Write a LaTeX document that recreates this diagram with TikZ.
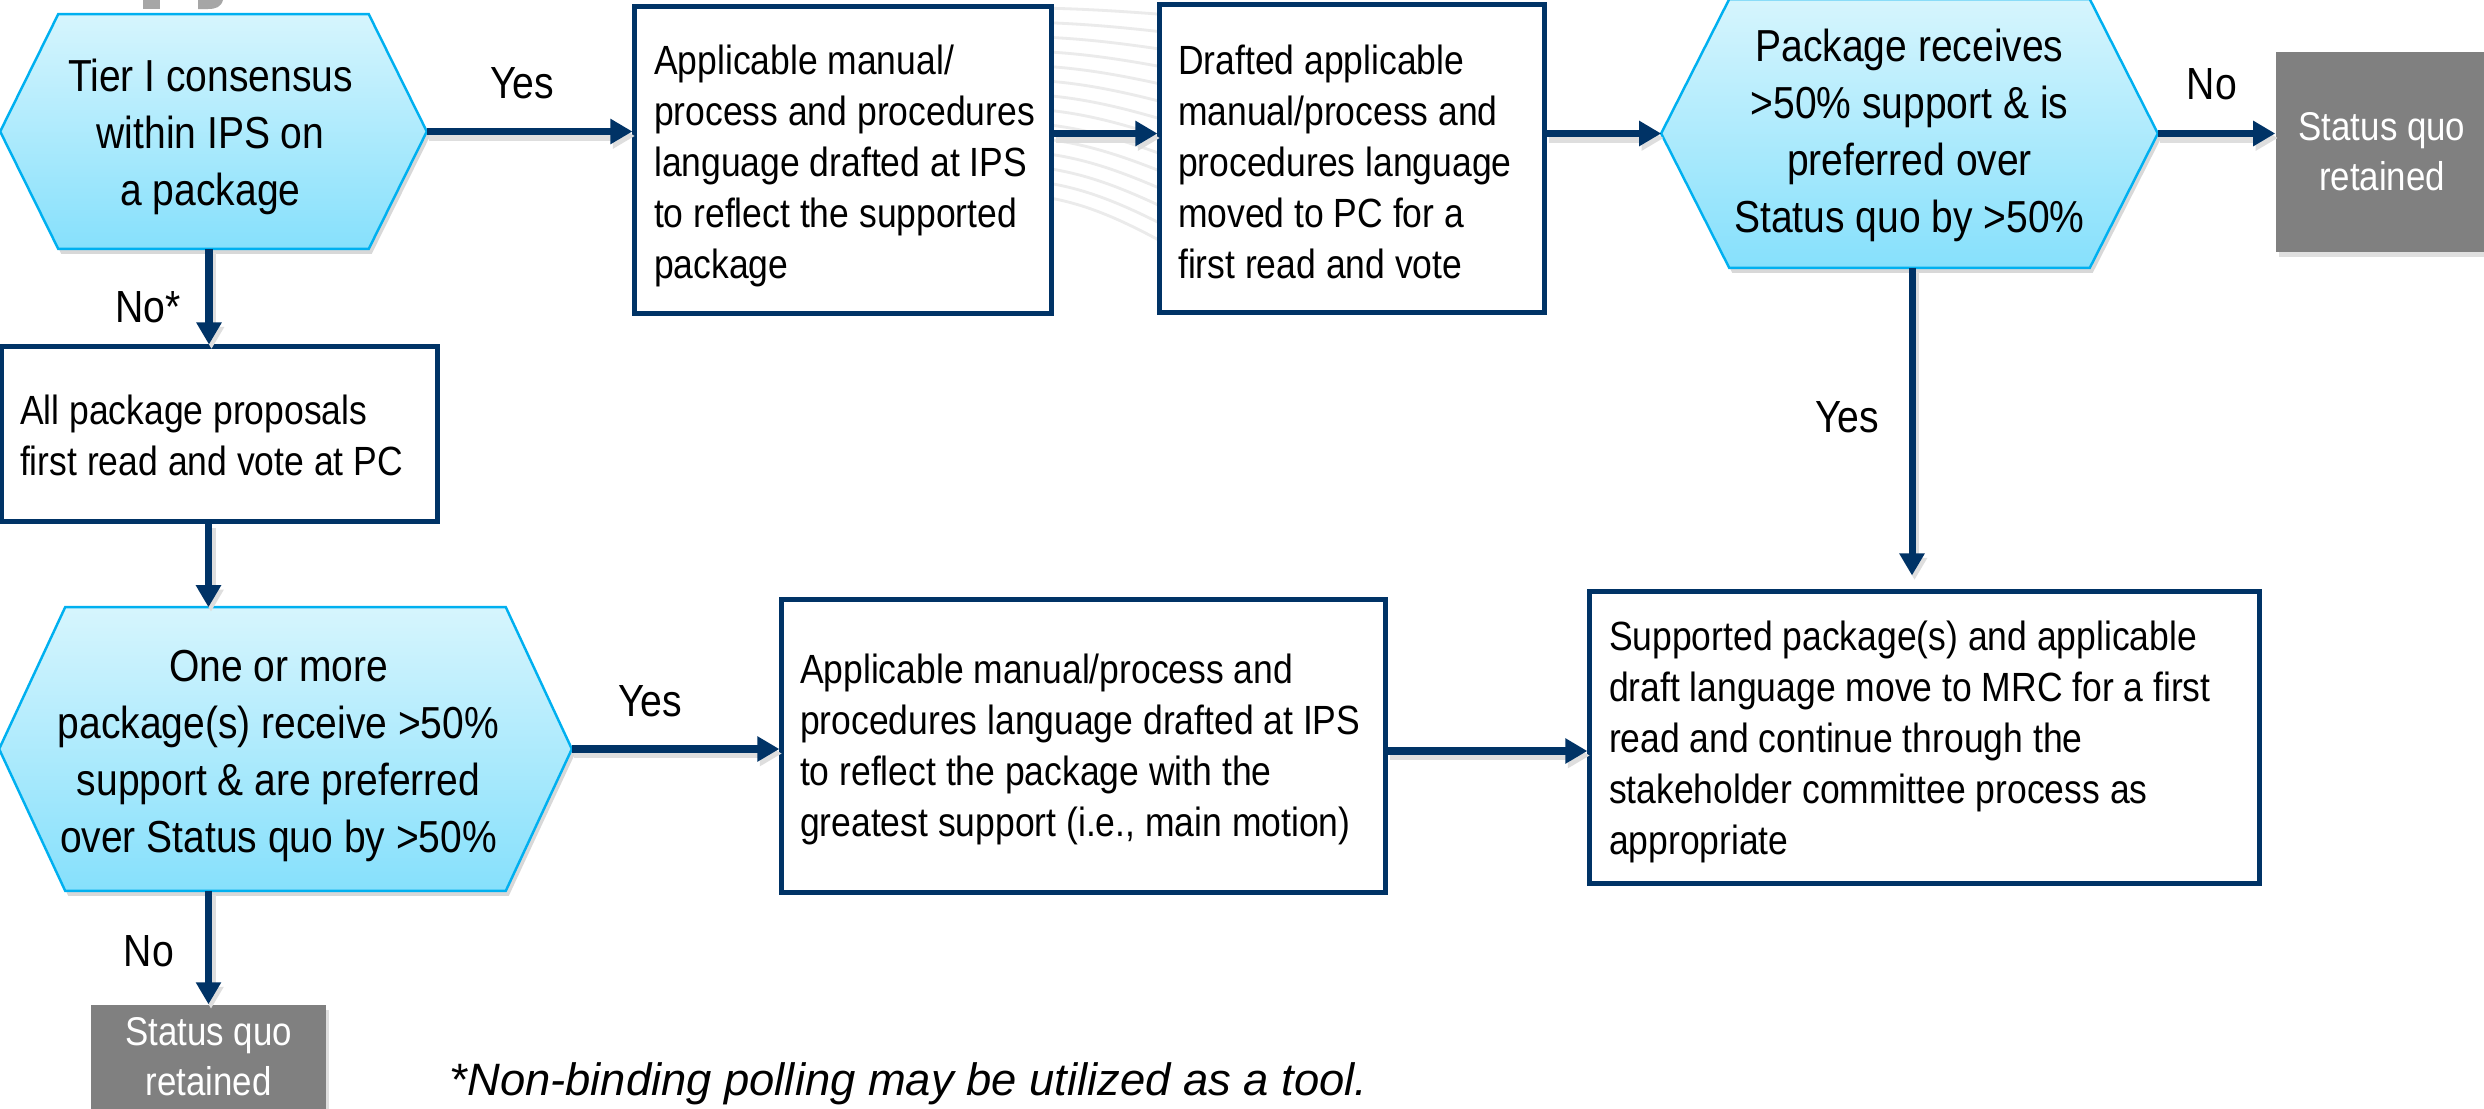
\documentclass[tikz,border=0pt]{standalone}
\usepackage{fontspec}
\setmainfont{Liberation Sans}[FakeStretch=0.87]
\newfontfamily\footfam{Liberation Sans}
\usetikzlibrary{arrows.meta,shadows,backgrounds,calc}
\definecolor{navy}{RGB}{0,51,102}
\definecolor{hextop}{RGB}{214,245,253}
\definecolor{hexbot}{RGB}{134,224,252}
\definecolor{hexline}{RGB}{0,176,240}
\definecolor{sqgray}{RGB}{128,128,128}
\definecolor{logogray}{RGB}{166,166,166}
\newcommand{\hexfont}{\fontsize{12.75pt}{16.2pt}\selectfont}
\newcommand{\boxfont}{\fontsize{11.6pt}{14.5pt}\selectfont}
\newcommand{\sqfont}{\fontsize{11.4pt}{14.2pt}\selectfont}
\newcommand{\lblfont}{\fontsize{12.8pt}{15pt}\selectfont}
\newcommand{\footfont}{\footfam\fontsize{12.9pt}{15pt}\itshape}
\newcommand{\hexpath}[2]{%
  \path[hexfill] ([xshift=#2]#1.north west) -- ([xshift=-#2]#1.north east) -- (#1.east)
    -- ([xshift=-#2]#1.south east) -- ([xshift=#2]#1.south west) -- (#1.west) -- cycle;}
\begin{document}
\begin{tikzpicture}[x=0.01cm,y=-0.01cm,
  hexn/.style={inner sep=0pt},
  hext/.style={align=center,font=\hexfont,inner sep=0pt},
  hexfill/.style={top color=hextop,bottom color=hexbot,draw=hexline,line width=0.7pt,
    drop shadow={opacity=0.3,shadow xshift=0.03cm,shadow yshift=-0.05cm}},
  stepbox/.style={draw=navy,line width=1.4pt,fill=white,inner sep=0pt},
  boxtext/.style={align=left,font=\boxfont,inner sep=0pt,anchor=west},
  sq/.style={fill=sqgray,text=white,align=center,font=\sqfont,inner sep=0pt,
    drop shadow={opacity=0.25,shadow xshift=0.03cm,shadow yshift=-0.05cm}},
  lbl/.style={font=\lblfont,inner sep=0pt,anchor=base},
  conn/.style={draw=navy,line width=2pt,-{Triangle[length=0.22cm,width=0.24cm]},
    preaction={draw=black!13,line width=2.6pt,transform canvas={xshift=0.025cm,yshift=-0.045cm}}},
  arcline/.style={draw=black!8,line width=0.8pt}]
\useasboundingbox (0,0) rectangle (2484,1109);

% background decorations
\begin{scope}[on background layer]
  \fill[white] (0,0) rectangle (2484,1109);
  \foreach \i in {0,...,13}{
    \pgfmathsetmacro\yy{8+14.5*\i}
    \pgfmathsetmacro\ss{7+43*(\yy-8)/190}
    \draw[arcline] (1040,\yy) .. controls (1085,{\yy+0.12*\ss}) and (1125,{\yy+0.5*\ss}) .. (1170,{\yy+\ss});
  }
  \fill[logogray] (143,-5) rectangle (160,9);
  \fill[logogray] (198,-5) -- (223,-5) -- (223,0) .. controls (221,7) and (216,9) .. (208,9) -- (198,9) -- cycle;
\end{scope}

% hexagon decision nodes
\node[hexn,minimum width=4.25cm,minimum height=2.33cm] (h1) at (213.5,131.5) {};
\node[hexn,minimum width=4.95cm,minimum height=2.67cm] (h2) at (1909.5,133.5) {};
\node[hexn,minimum width=5.71cm,minimum height=2.82cm] (h3) at (285.5,749) {};
\begin{scope}[on background layer]
  \hexpath{h1}{0.58cm}
  \hexpath{h2}{0.68cm}
  \hexpath{h3}{0.66cm}
\end{scope}
\node[hext] (h1t) at ($(h1.center)+(-3,5)$) {Tier I consensus\\within IPS on\\a package};
\node[hext] (h2t) at ($(h2.center)+(0,2)$) {Package receives\\>50\% support \& is\\preferred over\\Status quo by >50\%};
\node[hext] (h3t) at ($(h3.center)+(-7,7)$) {One or more\\package(s) receive >50\%\\support \& are preferred\\over Status quo by >50\%};

% process boxes
\node[stepbox,minimum width=4.16cm,minimum height=3.06cm] (A) at (843,160) {};
\node[boxtext] (At) at ($(A.west)+(21,6)$)
  {Applicable manual/\\process and procedures\\language drafted at IPS\\to reflect the supported\\package};
\node[stepbox,minimum width=3.84cm,minimum height=3.07cm] (B) at (1352,158.5) {};
\node[boxtext] (Bt) at ($(B.west)+(20,3)$)
  {Drafted applicable\\manual/process and\\procedures language\\moved to PC for a\\first read and vote};
\node[stepbox,minimum width=4.35cm,minimum height=1.74cm] (C) at (219.5,434) {};
\node[boxtext] (Ct) at ($(C.west)+(20,1)$)
  {All package proposals\\first read and vote at PC};
\node[stepbox,minimum width=6.03cm,minimum height=2.92cm] (D) at (1083.5,746) {};
\node[boxtext] (Dt) at ($(D.west)+(20,3)$)
  {Applicable manual/process and\\procedures language drafted at IPS\\to reflect the package with the\\greatest support (i.e., main motion)};
\node[stepbox,minimum width=6.69cm,minimum height=2.91cm] (E) at (1924.5,737.5) {};
\node[boxtext] (Et) at ($(E.west)+(21,4)$)
  {Supported package(s) and applicable\\draft language move to MRC for a first\\read and continue through the\\stakeholder committee process as\\appropriate};

% status quo boxes
\node[sq,minimum width=2.12cm,minimum height=2.0cm] (S1) at (2382,152) {Status quo\\retained};
\node[sq,minimum width=2.35cm,minimum height=1.04cm] (S2) at (208.5,1057) {Status quo\\retained};

% connectors
\draw[conn] (h1.east) -- (h1.east -| A.west);
\draw[conn] (A.east |- h2.west) -- (B.west |- h2.west);
\draw[conn] (B.east |- h2.west) -- (h2.west);
\draw[conn] (h2.east) -- (h2.east -| S1.west);
\draw[conn,shorten >=0.14cm] ([xshift=0.025cm]h2.south) -- ([xshift=0.025cm]h2.south |- E.north);
\draw[conn] ([xshift=-0.045cm]h1.south) -- ([xshift=-0.045cm]h1.south |- C.north);
\draw[conn] (C.south -| S2.north) -- (S2.north |- h3.north);
\draw[conn] (h3.east) -- (h3.east -| D.west);
\draw[conn] ($(D.east)+(0,5)$) -- ($(D.east -| E.west)+(0,5)$);
\draw[conn] (S2.north |- h3.south) -- (S2.north);

% labels
\node[lbl] (l1) at (522,98) {Yes};
\node[lbl] (l2) at (148,322) {No*};
\node[lbl] (l3) at (2212,100) {No};
\node[lbl] (l4) at (1847,432) {Yes};
\node[lbl] (l5) at (650,716) {Yes};
\node[lbl] (l6) at (149,966) {No};
\node[anchor=base west,inner sep=0pt,font=\footfont] (fn) at (449,1095)
  {*Non-binding polling may be utilized as a tool.};
\end{tikzpicture}
\end{document}
